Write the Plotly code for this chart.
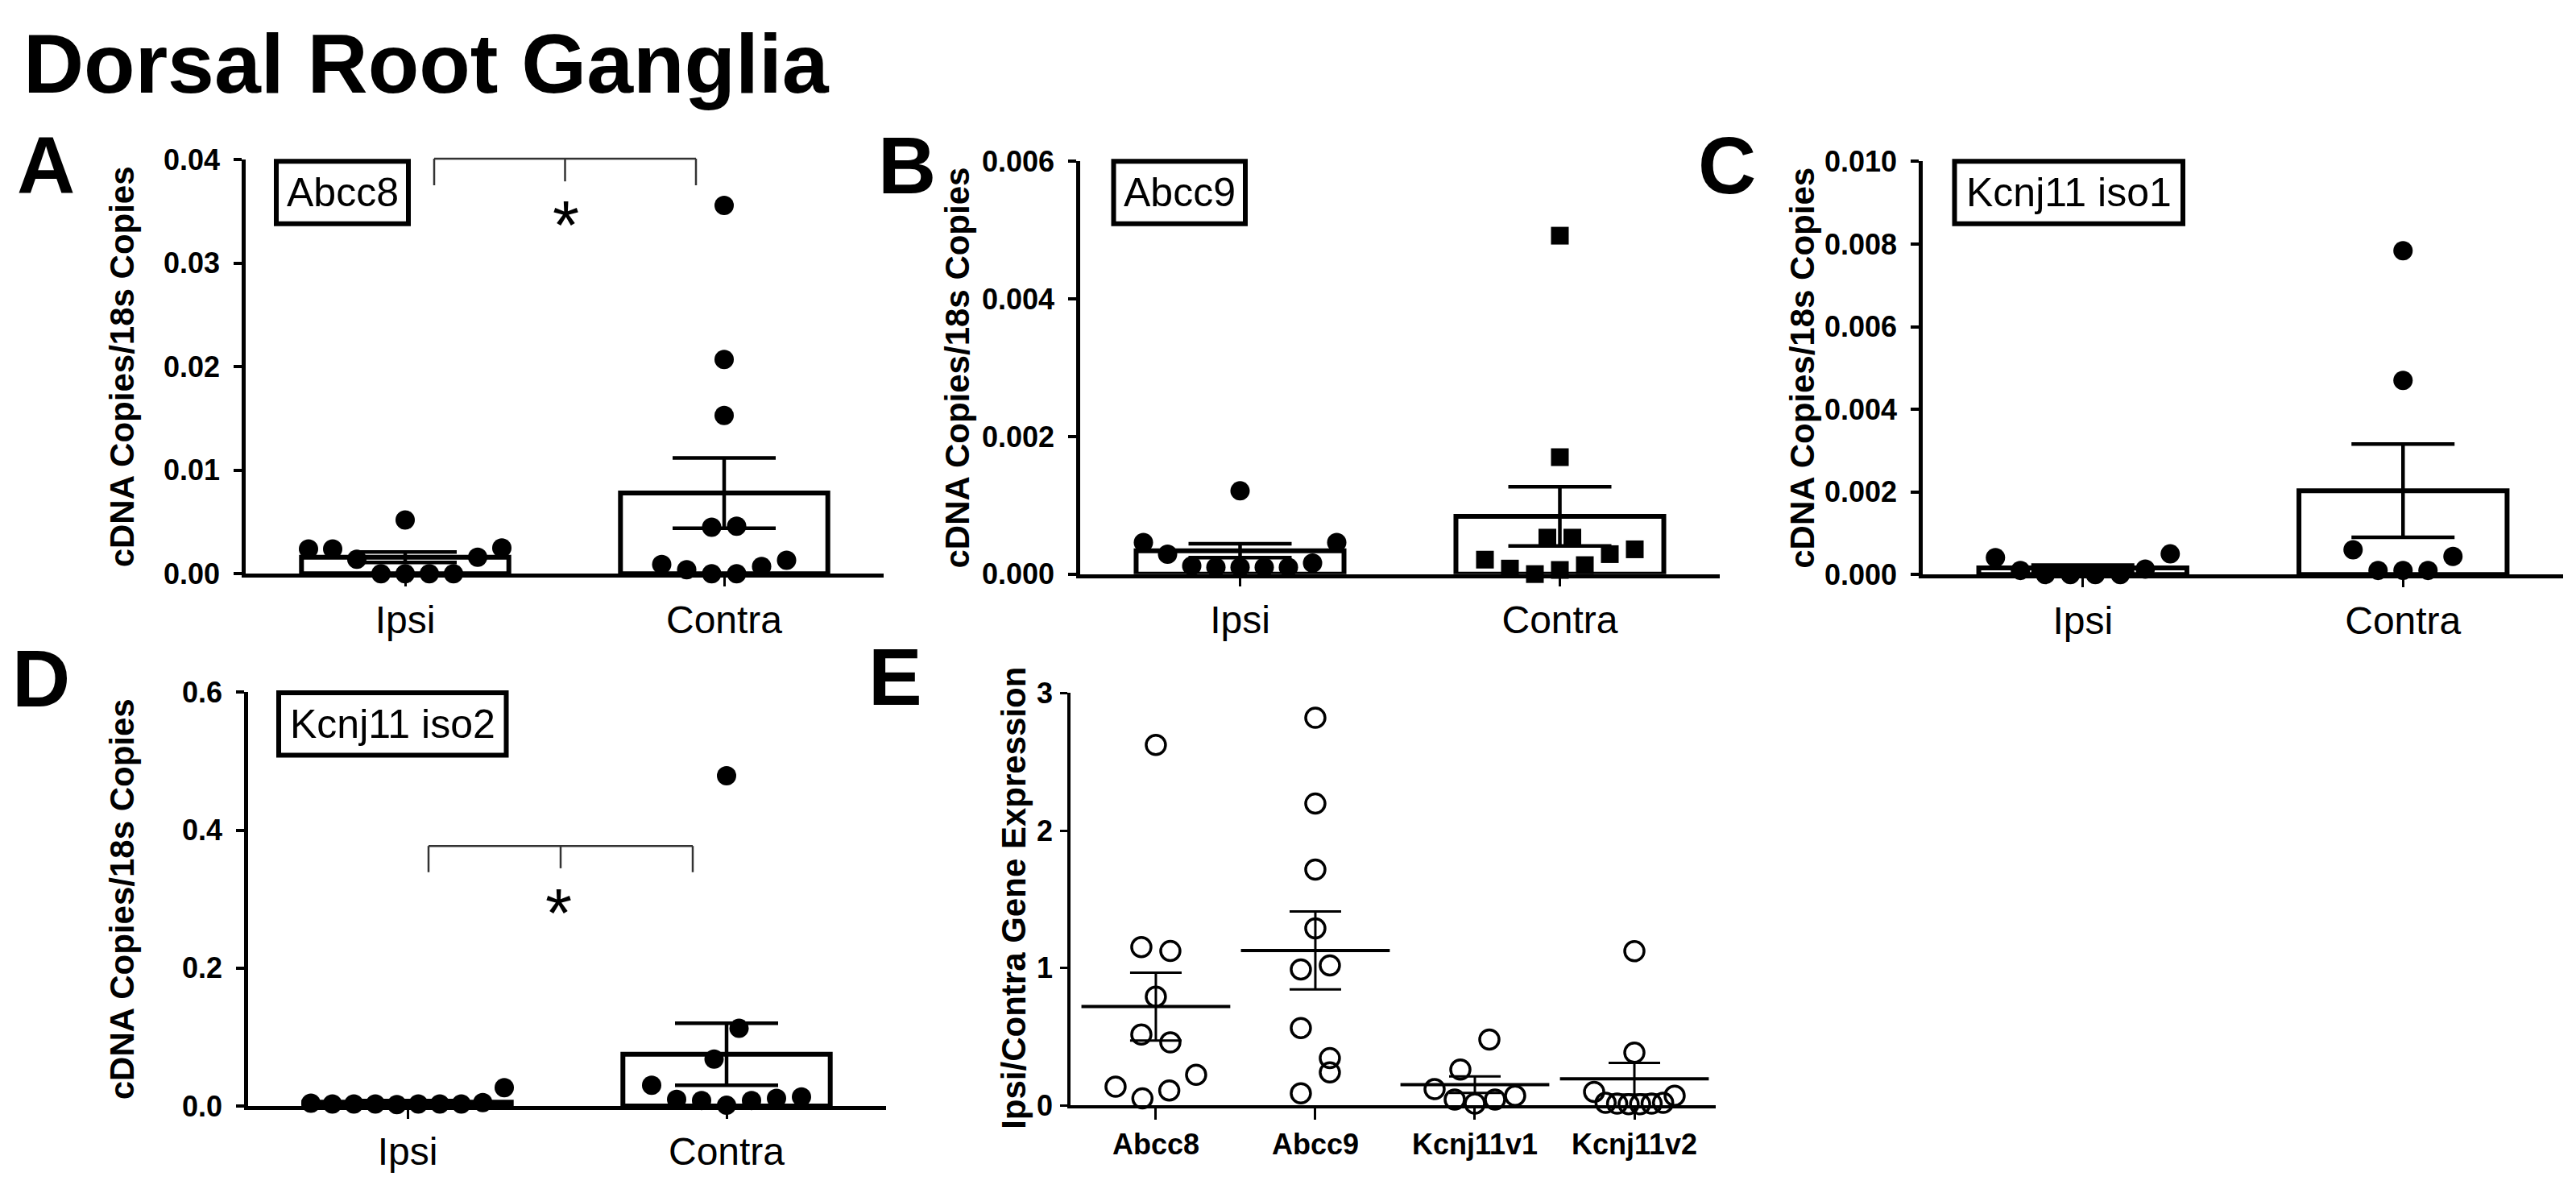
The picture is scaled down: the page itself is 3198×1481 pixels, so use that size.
import plotly.graph_objects as go

W, H = 3198, 1481

# ---------------- data ----------------
groups = ["Ipsi", "Contra"]

abcc8_ipsi = [0.0024, 0.0024, 0.0014, 0.0, 0.0, 0.0, 0.0, 0.0016, 0.0025, 0.0052]
abcc8_contra = [0.0009, 0.0004, 0.0, 0.0, 0.0007, 0.0013, 0.0045, 0.0046, 0.0153, 0.0207, 0.0356]
abcc8_mean = [0.0016, 0.0078]
abcc8_sem = [0.0005, 0.0034]
abcc8_ticks = [0.0, 0.01, 0.02, 0.03, 0.04]
abcc8_ticktext = ["0.00", "0.01", "0.02", "0.03", "0.04"]

abcc9_ipsi = [0.00046, 0.00029, 0.00012, 0.0001, 0.0001, 0.0001, 0.0001, 0.00016, 0.00046, 0.00121]
abcc9_contra = [0.00021, 0.00008, 0.0, 0.00006, 0.00013, 0.00029, 0.00053, 0.00036, 0.00053, 0.0017, 0.00492]
abcc9_mean = [0.00034, 0.00084]
abcc9_sem = [0.0001, 0.00043]
abcc9_ticks = [0.0, 0.002, 0.004, 0.006]
abcc9_ticktext = ["0.000", "0.002", "0.004", "0.006"]

kcnj11_iso1_ipsi = [0.00041, 0.0001, 0.0, 0.0, 0.0, 0.0, 0.00013, 0.0005]
kcnj11_iso1_contra = [0.0006, 0.0001, 0.0001, 0.0001, 0.00044, 0.0047, 0.00784]
kcnj11_iso1_mean = [0.00016, 0.00203]
kcnj11_iso1_sem = [0.00007, 0.00113]
kcnj11_iso1_ticks = [0.0, 0.002, 0.004, 0.006, 0.008, 0.010]
kcnj11_iso1_ticktext = ["0.000", "0.002", "0.004", "0.006", "0.008", "0.010"]

kcnj11_iso2_ipsi = [0.004, 0.003, 0.003, 0.003, 0.002, 0.003, 0.003, 0.003, 0.005, 0.0266]
kcnj11_iso2_contra = [0.030, 0.0095, 0.008, 0.001, 0.008, 0.011, 0.013, 0.068, 0.1126, 0.479]
kcnj11_iso2_mean = [0.0055, 0.075]
kcnj11_iso2_sem = [0.0025, 0.045]
kcnj11_iso2_ticks = [0.0, 0.2, 0.4, 0.6]
kcnj11_iso2_ticktext = ["0.0", "0.2", "0.4", "0.6"]

ratio_genes = ["Abcc8", "Abcc9", "Kcnj11v1", "Kcnj11v2"]
ratio_abcc8 = [0.138, 0.052, 0.110, 0.224, 0.517, 0.46, 0.792, 1.152, 1.124, 2.623]
ratio_abcc9 = [0.089, 0.241, 0.564, 0.345, 0.99, 1.019, 1.289, 1.716, 2.196, 2.82]
ratio_kcnj11v1 = [0.12, 0.044, 0.015, 0.044, 0.072, 0.262, 0.48]
ratio_kcnj11v2 = [0.10, 0.02, 0.015, 0.01, 0.01, 0.015, 0.02, 0.072, 0.385, 1.123]
ratio_mean = [0.72, 1.128, 0.152, 0.195]
ratio_sem = [0.247, 0.283, 0.06, 0.115]
ratio_ticks = [0, 1, 2, 3]
ratio_ticktext = ["0", "1", "2", "3"]

y_title_bar = "cDNA Copies/18s Copies"
y_title_ratio = "Ipsi/Contra Gene Expression"
main_title = "Dorsal Root Ganglia"

# ---------------- layout geometry (pixels) ----------------
FONT = "Liberation Sans, Arial, Helvetica, sans-serif"


def px(x, y):
    return x / W, 1 - y / H


def swarm(vals, ppu, ppc, bin_px=42, spacing=31, maxw=240):
    """GraphPad-like row scatter: points with similar values share a row."""
    order = sorted(range(len(vals)), key=lambda i: vals[i])
    rows = []
    for i in order:
        p = vals[i] * ppu
        if rows and p - rows[-1][0] <= bin_px:
            rows[-1][1].append(i)
        else:
            rows.append([p, [i]])
    off = [0.0] * len(vals)
    for _, mem in rows:
        mem.sort()
        n = len(mem)
        s = spacing if n < 2 else min(spacing, maxw / (n - 1))
        for k, i in enumerate(mem):
            off[i] = (k - (n - 1) / 2) * s / ppc
    return off


fig = go.Figure()
layout_axes = {}
annotations = []
shapes = []

bar_panels = [
    ("A", (305, 1097), (183.5, 712.0), (0, 0.04), abcc8_ipsi, abcc8_contra, abcc8_mean, abcc8_sem,
     abcc8_ticks, abcc8_ticktext, "circle", "Abcc8", (340, 182.5, 510, 268), 151),
    ("B", (1341, 2135), (185.5, 712.4), (0, 0.006), abcc9_ipsi, abcc9_contra, abcc9_mean, abcc9_sem,
     abcc9_ticks, abcc9_ticktext, "square", "Abcc9", (1379.5, 182.5, 1549, 268), 1189),
    ("C", (2387, 3182), (185.5, 713.0), (0, 0.010), kcnj11_iso1_ipsi, kcnj11_iso1_contra, kcnj11_iso1_mean,
     kcnj11_iso1_sem, kcnj11_iso1_ticks, kcnj11_iso1_ticktext, "circle", "Kcnj11 iso1",
     (2423.5, 182.5, 2713, 268), 2238),
    ("D", (308, 1100), (863.4, 1391.5), (0, 0.6), kcnj11_iso2_ipsi, kcnj11_iso2_contra, kcnj11_iso2_mean,
     kcnj11_iso2_sem, kcnj11_iso2_ticks, kcnj11_iso2_ticktext, "circle", "Kcnj11 iso2",
     (343, 861, 631.5, 946.5), 151),
]

for n, (key, xp, yp, yr, ipsi, contra, mean, sem, tv, tt, csym, label, box, ytx) in enumerate(bar_panels, start=1):
    xa = "x" if n == 1 else f"x{n}"
    ya = "y" if n == 1 else f"y{n}"
    xr = (-0.5, 1.5)
    ppu = (yp[1] - yp[0]) / (yr[1] - yr[0])
    ppc = (xp[1] - xp[0]) / (xr[1] - xr[0])

    fig.add_trace(go.Bar(
        x=[0, 1], y=mean, width=0.65, xaxis=xa, yaxis=ya,
        marker=dict(color="white", line=dict(color="black", width=6)),
        error_y=dict(type="data", array=sem, visible=True, color="black", thickness=4.5, width=64),
        hoverinfo="skip",
    ))
    for gi, (vals, sym) in enumerate([(ipsi, "circle"), (contra, csym)]):
        off = swarm(vals, ppu, ppc)
        fig.add_trace(go.Scatter(
            x=[gi + o for o in off], y=vals, mode="markers", xaxis=xa, yaxis=ya,
            marker=dict(symbol=sym, size=24 if sym == "circle" else 22, color="black",
                        line=dict(width=0)),
            cliponaxis=False, hoverinfo="skip",
        ))

    layout_axes["xaxis" if n == 1 else f"xaxis{n}"] = dict(
        domain=[xp[0] / W, xp[1] / W], range=list(xr), anchor=ya,
        showline=True, linewidth=4.5, linecolor="black", showgrid=False, zeroline=False,
        ticks="outside", ticklen=11, tickwidth=3, tickcolor="black",
        tickvals=[0, 1], ticktext=groups, tickfont=dict(size=48, family=FONT, color="black"),
        ticklabelstandoff=0, fixedrange=True,
    )
    layout_axes["yaxis" if n == 1 else f"yaxis{n}"] = dict(
        domain=[1 - yp[1] / H, 1 - yp[0] / H], range=list(yr), anchor=xa,
        showline=True, linewidth=4.5, linecolor="black", showgrid=False, zeroline=False,
        ticks="outside", ticklen=10, tickwidth=4, tickcolor="black",
        tickvals=tv, ticktext=tt, tickfont=dict(size=36, family=FONT, color="black", weight="bold"),
        ticklabelstandoff=10, fixedrange=True,
    )

    cx, cy = px(ytx, (yp[0] + yp[1]) / 2)
    annotations.append(dict(text=y_title_bar, x=cx, y=cy, xref="paper", yref="paper",
                            xanchor="center", yanchor="middle", textangle=-90, showarrow=False,
                            font=dict(size=42, family=FONT, color="black", weight="bold")))
    bx0, by0, bx1, by1 = box
    p0 = px(bx0 + 3, by1 - 3)
    p1 = px(bx1 - 3, by0 + 3)
    shapes.append(dict(type="rect", xref="paper", yref="paper", x0=p0[0], y0=p0[1], x1=p1[0], y1=p1[1],
                       line=dict(color="black", width=6), fillcolor="white"))
    lx, ly = px((bx0 + bx1) / 2, (by0 + by1) / 2)
    annotations.append(dict(text=label, x=lx, y=ly, xref="paper", yref="paper",
                            xanchor="center", yanchor="middle", showarrow=False,
                            font=dict(size=50, family=FONT, color="black")))

# ---------------- panel E ----------------
xpE, ypE, yrE, xrE = (1329, 2130), (864.3, 1391.0), (0, 3), (-0.535, 3.51)
ppuE = (ypE[1] - ypE[0]) / (yrE[1] - yrE[0])
ppcE = (xpE[1] - xpE[0]) / (xrE[1] - xrE[0])
for gi, vals in enumerate([ratio_abcc8, ratio_abcc9, ratio_kcnj11v1, ratio_kcnj11v2]):
    off = swarm(vals, ppuE, ppcE, bin_px=42, spacing=36, maxw=100)
    fig.add_trace(go.Scatter(
        x=[gi + o for o in off], y=vals, mode="markers", xaxis="x5", yaxis="y5",
        marker=dict(symbol="circle-open", size=24, color="black", line=dict(width=3.5, color="black")),
        cliponaxis=False, hoverinfo="skip",
    ))
fig.add_trace(go.Scatter(
    x=list(range(len(ratio_genes))), y=ratio_mean, mode="markers", xaxis="x5", yaxis="y5",
    marker=dict(symbol="line-ew", size=132, color="black", line=dict(width=4, color="black")),
    error_y=dict(type="data", array=ratio_sem, visible=True, color="black", thickness=3, width=32),
    cliponaxis=False, hoverinfo="skip",
))
layout_axes["xaxis5"] = dict(
    domain=[xpE[0] / W, xpE[1] / W], range=list(xrE), anchor="y5",
    showline=True, linewidth=3.5, linecolor="black", showgrid=False, zeroline=False,
    ticks="outside", ticklen=14, tickwidth=3, tickcolor="black",
    tickvals=list(range(len(ratio_genes))), ticktext=ratio_genes,
    tickfont=dict(size=36, family=FONT, color="black", weight="bold"),
    ticklabelstandoff=0, fixedrange=True,
)
layout_axes["yaxis5"] = dict(
    domain=[1 - ypE[1] / H, 1 - ypE[0] / H], range=list(yrE), anchor="x5",
    showline=True, linewidth=3.5, linecolor="black", showgrid=False, zeroline=False,
    ticks="outside", ticklen=9, tickwidth=3, tickcolor="black",
    tickvals=ratio_ticks, ticktext=ratio_ticktext,
    tickfont=dict(size=36, family=FONT, color="black", weight="bold"),
    ticklabelstandoff=2, fixedrange=True,
)
cx, cy = px(1259, 1126)
annotations.append(dict(text=y_title_ratio, x=cx, y=cy, xref="paper", yref="paper",
                        xanchor="center", yanchor="middle", textangle=-90, showarrow=False,
                        font=dict(size=42, family=FONT, color="black", weight="bold")))

# ---------------- significance brackets ----------------
for (bx0, bx1, btop, bend, bmid, ax_, ay_) in [(539, 864, 182, 216, 211, 702, 267),
                                                (532, 860, 1059.5, 1093, 1088, 693, 1145)]:
    for (x0, y0, x1, y1) in [(bx0, btop, bx1, btop), (bx0, btop, bx0, bend), (bx1, btop, bx1, bend),
                             ((bx0 + bx1) / 2, btop, (bx0 + bx1) / 2, bmid)]:
        a = px(x0, y0)
        b = px(x1, y1)
        shapes.append(dict(type="line", xref="paper", yref="paper", x0=a[0], y0=a[1], x1=b[0], y1=b[1],
                           line=dict(color="#333333", width=2.5)))
    sx, sy = px(ax_, ay_)
    annotations.append(dict(text="*", x=sx, y=sy, xref="paper", yref="paper", xanchor="center",
                            yanchor="middle", showarrow=False,
                            font=dict(size=85, family=FONT, color="black")))

# ---------------- title & panel letters ----------------
tx, ty = px(27, 60.5)
annotations.append(dict(text=main_title, x=tx, y=ty, xref="paper", yref="paper", xanchor="left",
                        yanchor="middle", showarrow=False,
                        font=dict(size=104, family=FONT, color="black", weight="bold")))
for letter, lxp, lyp in [("A", 19, 190), ("B", 1088, 190), ("C", 2106, 190), ("D", 13, 845), ("E", 1076, 843)]:
    a = px(lxp, lyp)
    annotations.append(dict(text=letter, x=a[0], y=a[1], xref="paper", yref="paper", xanchor="left",
                            yanchor="middle", showarrow=False,
                            font=dict(size=100, family=FONT, color="black", weight="bold")))

fig.update_layout(
    width=W, height=H, margin=dict(l=0, r=0, t=0, b=0),
    paper_bgcolor="white", plot_bgcolor="rgba(0,0,0,0)", showlegend=False,
    font=dict(family=FONT, color="black"),
    annotations=annotations, shapes=shapes, barmode="overlay",
    **layout_axes,
)

fig.write_html("out.html", config={"displayModeBar": False},
               post_script="document.body.style.margin='0';document.body.style.overflow='hidden';")
